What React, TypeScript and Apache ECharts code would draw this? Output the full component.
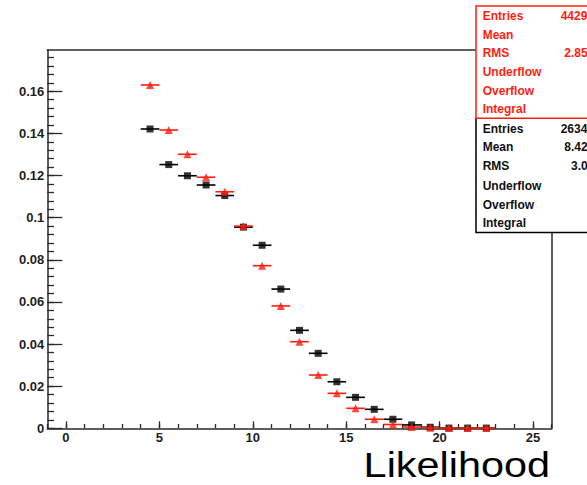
import React, { useEffect, useRef } from "react";
import * as echarts from "echarts";

// Bin centres (Likelihood) and normalised contents
const binCenters = [4.5, 5.5, 6.5, 7.5, 8.5, 9.5, 10.5, 11.5, 12.5, 13.5, 14.5, 15.5, 16.5, 17.5, 18.5, 19.5, 20.5, 21.5, 22.5];
const blackValues = [0.1421, 0.1252, 0.1199, 0.1155, 0.1105, 0.0955, 0.0869, 0.0661, 0.0465, 0.0356, 0.0221, 0.0147, 0.0090, 0.0043, 0.0016, 0.0005, 0.0001, 0.0001, 0.0001];
const redValues = [0.1630, 0.1416, 0.1301, 0.1192, 0.1123, 0.0960, 0.0772, 0.0581, 0.0411, 0.0253, 0.0166, 0.0095, 0.0043, 0.0018, 0.0006, 0.0003, 0.0001, 0.0001, 0.0001];
const binHalfWidth = 0.5;

// Axis ticks
const xMajorTicks = [0, 5, 10, 15, 20, 25];
const xMinorTicks = Array.from({ length: 28 }, (_, i) => i - 1);
const yMajorTicks = [0, 0.02, 0.04, 0.06, 0.08, 0.1, 0.12, 0.14, 0.16];
const yMinorTicks = Array.from({ length: 45 }, (_, i) => Math.round(i * 0.004 * 1000) / 1000);

// Stats boxes
const statLabels = ["Entries", "Mean", "RMS", "Underflow", "Overflow", "Integral"];
const redStatValues = ["4429", "", "2.85", "", "", ""];
const blackStatValues = ["2634", "8.42", "3.0", "", "", ""];

const RED = "#ff1e10";
const BLACK = "#000000";
const FONT = "'Liberation Sans', Arial, Helvetica, sans-serif";

export default function App() {
  const ref = useRef<HTMLDivElement>(null);
  useEffect(() => {
    if (!ref.current) return;
    const chart = echarts.init(ref.current, null, { renderer: "svg" });

    const mk = (vals: number[]) => binCenters.map((x, i) => [x, vals[i]]);
    const errBar = (color: string) => (params: any, api: any) => {
      const x = api.value(0);
      const y = api.value(1);
      const p1 = api.coord([x - binHalfWidth, y]);
      const p2 = api.coord([x + binHalfWidth, y]);
      return {
        type: "line",
        shape: { x1: p1[0], y1: p1[1], x2: p2[0], y2: p2[1] },
        style: { stroke: color, lineWidth: 1.6 },
      };
    };

    const axisColor = "#2a2a2a";
    const labelStyle = { fontFamily: FONT, fontWeight: "bold", fontSize: 13, color: "#1e1e1e" };

    const valueX = (v: string) => (v.length === 3 ? 571 : v.indexOf(".") < 0 ? 560.7 : 564.3);
    const statTexts = (values: string[], color: string, rows: number[]) => {
      const out: any[] = [];
      statLabels.forEach((lab, i) => {
        out.push({
          type: "text", z: 102,
          x: 482.7,
          y: rows[i],
          style: { text: lab, fill: color, font: `bold 12px ${FONT}`, verticalAlign: "middle", align: "left" },
        });
        if (values[i]) {
          out.push({
            type: "text", z: 102,
            x: valueX(values[i]),
            y: rows[i],
            style: { text: values[i], fill: color, font: `bold 12px ${FONT}`, verticalAlign: "middle", align: "left" },
          });
        }
      });
      return out;
    };

    const redRows = [16, 35, 53.3, 71.7, 90.7, 109.3];
    const blackRows = [129.3, 147.3, 165.7, 185.7, 205, 222.7];

    chart.setOption({
      animation: false,
      backgroundColor: "#ffffff",
      grid: { left: 47.3, top: 50, right: 35.3, bottom: 56.7, containLabel: false },
      xAxis: [
        {
          type: "value", min: -1, max: 26, position: "bottom",
          axisLine: { show: true, onZero: false, lineStyle: { color: axisColor, width: 1.5 } },
          axisTick: { show: true, inside: true, length: 7, customValues: xMajorTicks, lineStyle: { color: axisColor, width: 1.3 } },
          axisLabel: { show: true, customValues: xMajorTicks, margin: 3, ...labelStyle, lineHeight: 13, formatter: (v: number) => String(v) },
          splitLine: { show: false },
        },
        {
          type: "value", min: -1, max: 26, position: "bottom",
          axisLine: { show: false, onZero: false },
          axisTick: { show: true, inside: true, length: 4.3, customValues: xMinorTicks, lineStyle: { color: axisColor, width: 1.3 } },
          axisLabel: { show: false },
          splitLine: { show: false },
        },
        {
          type: "value", min: -1, max: 26, position: "top",
          axisLine: { show: true, onZero: false, lineStyle: { color: axisColor, width: 1.5 } },
          axisTick: { show: false }, axisLabel: { show: false }, splitLine: { show: false },
        },
      ],
      yAxis: [
        {
          type: "value", min: 0, max: 0.1796, position: "left",
          axisLine: { show: true, onZero: false, lineStyle: { color: axisColor, width: 1.5 } },
          axisTick: { show: true, inside: true, length: 15, customValues: yMajorTicks, lineStyle: { color: axisColor, width: 1.3 } },
          axisLabel: { show: true, customValues: yMajorTicks, margin: 3, ...labelStyle, formatter: (v: number) => String(v) },
          splitLine: { show: false },
        },
        {
          type: "value", min: 0, max: 0.1796, position: "left",
          axisLine: { show: false, onZero: false },
          axisTick: { show: true, inside: true, length: 6.7, customValues: yMinorTicks, lineStyle: { color: axisColor, width: 1.3 } },
          axisLabel: { show: false },
          splitLine: { show: false },
        },
        {
          type: "value", min: 0, max: 0.1796, position: "right",
          axisLine: { show: true, onZero: false, lineStyle: { color: axisColor, width: 1.5 } },
          axisTick: { show: false }, axisLabel: { show: false }, splitLine: { show: false },
        },
      ],
      series: [
        { type: "custom", xAxisIndex: 0, yAxisIndex: 0, renderItem: errBar(BLACK), data: mk(blackValues), z: 2 },
        {
          type: "scatter", xAxisIndex: 0, yAxisIndex: 0, data: mk(blackValues), symbol: "rect", symbolSize: 7,
          itemStyle: { color: BLACK }, z: 3,
        },
        { type: "custom", xAxisIndex: 0, yAxisIndex: 0, renderItem: errBar(RED), data: mk(redValues), z: 4 },
        {
          type: "scatter", xAxisIndex: 0, yAxisIndex: 0, data: mk(redValues), symbol: "triangle", symbolSize: 8,
          itemStyle: { color: RED }, z: 5,
        },
      ],
      graphic: [
        {
          type: "rect", z: 100,
          shape: { x: 476, y: 118.3, width: 130, height: 114.2 },
          style: { fill: "#ffffff", stroke: BLACK, lineWidth: 1.5 },
        },
        {
          type: "rect", z: 101,
          shape: { x: 476, y: 6, width: 130, height: 112.3 },
          style: { fill: "#ffffff", stroke: RED, lineWidth: 1.5 },
        },
        ...statTexts(redStatValues, RED, redRows),
        ...statTexts(blackStatValues, "#111111", blackRows),
        {
          type: "text", z: 102, x: 550, y: 464.5, scaleX: 1.15, scaleY: 1,
          style: {
            text: "Likelihood", fill: "#000", fontFamily: FONT, fontSize: 36, lineHeight: 30,
            align: "right", verticalAlign: "middle",
          },
        },
      ],
    });
    return () => chart.dispose();
  }, []);
  return <div ref={ref} style={{ position: "fixed", left: 0, top: 0, width: 587, height: 485 }} />;
}
